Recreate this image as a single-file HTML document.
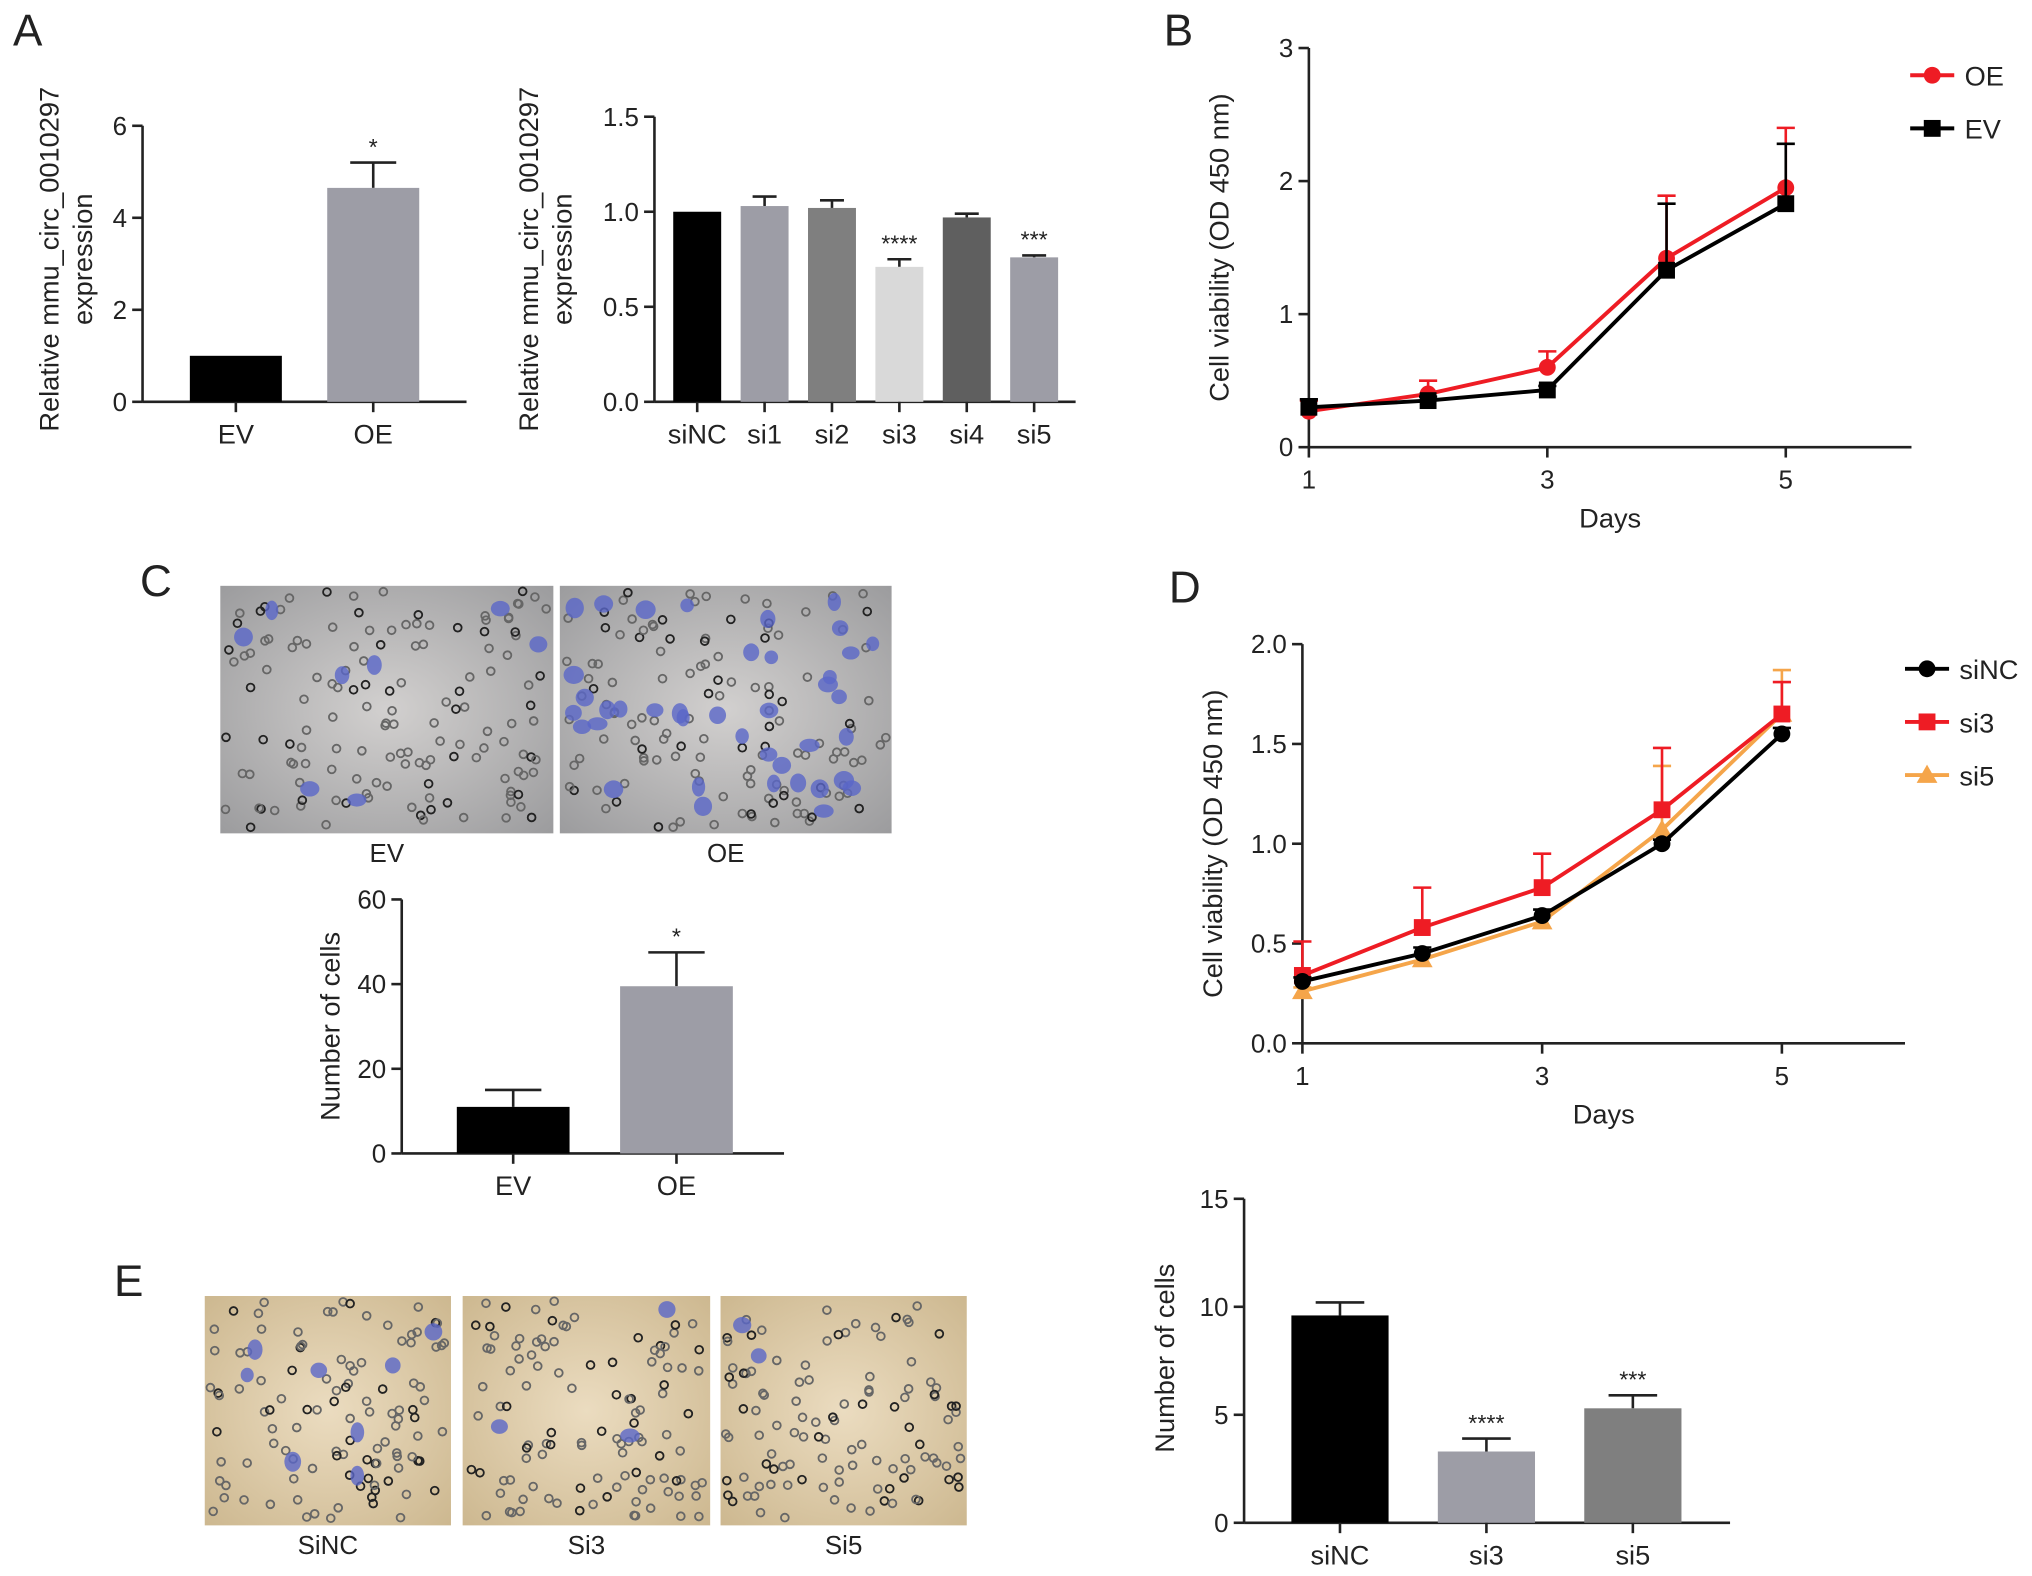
<!DOCTYPE html>
<html><head><meta charset="utf-8"><style>
html,body{margin:0;padding:0;background:#fff}
svg{display:block}
text{font-family:"Liberation Sans",Arial,sans-serif;fill:#222}
</style></head><body>
<svg id="s" width="2032" height="1576" viewBox="0 0 1568 1216" xmlns="http://www.w3.org/2000/svg">
<defs>
<radialGradient id="gC" cx="50%" cy="50%" r="70%"><stop offset="0" stop-color="#d2d0cf"/><stop offset="1" stop-color="#9c9c9e"/></radialGradient>
<radialGradient id="gE" cx="50%" cy="50%" r="70%"><stop offset="0" stop-color="#ebdcc0"/><stop offset="1" stop-color="#cdb890"/></radialGradient>
</defs>
<g id="root"></g>
</svg>
<script>
// ---- data ----
const aLeftCats=['EV','OE'];
const aLeftVals=[1,4.65];
const aLeftErr=[0,0.55];
const aLeftTicks=[0,2,4,6];
const aRightCats=['siNC','si1','si2','si3','si4','si5'];
const aRightVals=[1.0,1.03,1.02,0.71,0.97,0.76];
const aRightErr=[0,0.05,0.04,0.04,0.02,0.01];
const aRightTicks=[0,0.5,1.0,1.5];
const bDays=[1,2,3,4,5];
const bOE=[0.27,0.4,0.6,1.42,1.95];
const bOEerr=[0.08,0.1,0.12,0.47,0.45];
const bEV=[0.3,0.35,0.43,1.33,1.83];
const bEVerr=[0.06,0.03,0.03,0.5,0.45];
const bTicks=[0,1,2,3];
const dSiNC=[0.31,0.45,0.64,1.0,1.55];
const dSiNCerr=[0.02,0.03,0.03,0.02,0.03];
const dSi3=[0.34,0.58,0.78,1.17,1.65];
const dSi3err=[0.17,0.2,0.17,0.31,0.16];
const dSi5=[0.26,0.42,0.61,1.07,1.65];
const dSi5err=[0.02,0.02,0.02,0.32,0.22];
const dTicks=[0,0.5,1.0,1.5,2.0];
const cCats=['EV','OE'];
const cVals=[11,39.5];
const cErr=[4,8];
const cTicks=[0,20,40,60];
const eCats=['siNC','si3','si5'];
const eVals=[9.6,3.3,5.3];
const eErr=[0.6,0.6,0.6];
const eTicks=[0,5,10,15];

const NS='http://www.w3.org/2000/svg';
const root=document.getElementById('root');
function el(tag,attrs,parent,txt){const e=document.createElementNS(NS,tag);for(const k in attrs)e.setAttribute(k,attrs[k]);if(txt!==undefined)e.textContent=txt;(parent||root).appendChild(e);return e;}
function lin(d0,d1,r0,r1){return v=>r0+(v-d0)*(r1-r0)/(d1-d0);}

function yAxis(g,x,y,ticks,yMin,yMax,fmt){
  const ln=el('line',{x1:x,x2:x,y1:y(yMax),y2:y(yMin),stroke:'#222','stroke-width':2},g);
  
  
  ticks.forEach(t=>{
    el('line',{x1:x-8,x2:x,y1:y(t),y2:y(t),stroke:'#222','stroke-width':2},g);
    const tx=el('text',{x:x-12,y:y(t)+7,'text-anchor':'end','font-size':20},g,fmt(t));
    
    
  });
}
function yTitle(g,x,yc,lines){
  lines.forEach((l,i)=>{
    const t=el('text',{x:0,y:0,transform:`translate(${x+i*26},${yc}) rotate(-90)`,'text-anchor':'middle','font-size':21},g,l);
    
    
  });
}
function barChart(name,o){
  const g=el('g',{},root);
  
  
  const y=lin(o.yMin,o.yMax,o.y0,o.y1);
  const bw=o.bw, step=o.step;
  el('line',{x1:o.x0,x2:o.xEnd,y1:o.y0,y2:o.y0,stroke:'#222','stroke-width':2},g);
  yAxis(g,o.x0,y,o.ticks,o.yMin,o.yMax,o.fmt);
  o.cats.forEach((c,i)=>{
    const cx=o.first+i*step;
    const v=o.vals[i], e=o.err[i];
    if(e>0){
      el('line',{x1:cx,x2:cx,y1:y(v),y2:y(v+e),stroke:'#222','stroke-width':2},g);
      el('line',{x1:cx-bw/4,x2:cx+bw/4,y1:y(v+e),y2:y(v+e),stroke:'#222','stroke-width':2},g);
    }
    const r=el('rect',{x:cx-bw/2,y:y(v),width:bw,height:o.y0-y(v),fill:o.colors[i]},g);
    
    
    el('line',{x1:cx,x2:cx,y1:o.y0,y2:o.y0+8,stroke:'#222','stroke-width':2},g);
    const t=el('text',{x:cx,y:o.y0+32,'text-anchor':'middle','font-size':21},g,c);
    
    
    if(o.stars&&o.stars[i]){
      const s=el('text',{x:cx,y:y(v+e)-6,'text-anchor':'middle','font-size':18},g,o.stars[i]);
      
      
    }
  });
  return g;
}
function lineChart(name,o){
  const g=el('g',{},root);
  
  
  const y=lin(o.yMin,o.yMax,o.y0,o.y1);
  const x=lin(1,5,o.x0,o.x5);
  el('line',{x1:o.x0,x2:o.xEnd,y1:o.y0,y2:o.y0,stroke:'#222','stroke-width':2},g);
  yAxis(g,o.x0,y,o.ticks,o.yMin,o.yMax,o.fmt);
  [1,3,5].forEach(d=>{
    el('line',{x1:x(d),x2:x(d),y1:o.y0,y2:o.y0+8,stroke:'#222','stroke-width':2},g);
    const t=el('text',{x:x(d),y:o.y0+32,'text-anchor':'middle','font-size':20},g,d);
    
    
  });
  const xt=el('text',{x:(o.x0+o.xEnd)/2,y:o.y0+62,'text-anchor':'middle','font-size':21},g,'Days');
  
  
  yTitle(g,o.x0-62,(o.y0+o.y1)/2,['Cell viability (OD 450 nm)']);
  o.series.forEach((s)=>{
    const sg=el('g',{},g);
    
    
    s.vals.forEach((v,i)=>{
      const d=bDays[i];
      el('line',{x1:x(d),x2:x(d),y1:y(v),y2:y(v+s.err[i]),stroke:s.color,'stroke-width':2},sg);
      el('line',{x1:x(d)-7,x2:x(d)+7,y1:y(v+s.err[i]),y2:y(v+s.err[i]),stroke:s.color,'stroke-width':2},sg);
    });
    el('polyline',{points:s.vals.map((v,i)=>x(bDays[i])+','+y(v)).join(' '),fill:'none',stroke:s.color,'stroke-width':3},sg);
    s.vals.forEach((v,i)=>marker(sg,s.shape,x(bDays[i]),y(v),s.color));
    const ly=o.legY+s.leg*o.legStep, lx=o.legX;
    const lg=el('g',{},g);
    
    
    el('line',{x1:lx,x2:lx+34,y1:ly,y2:ly,stroke:s.color,'stroke-width':3},lg);
    marker(lg,s.shape,lx+17,ly,s.color);
    el('text',{x:lx+42,y:ly+8,'font-size':21},lg,s.name);
  });
}
function marker(g,shape,cx,cy,c){
  if(shape==='c')el('circle',{cx,cy,r:6.5,fill:c},g);
  else if(shape==='s')el('rect',{x:cx-6.5,y:cy-6.5,width:13,height:13,fill:c},g);
  else el('polygon',{points:`${cx},${cy-8} ${cx+8},${cy+6} ${cx-8},${cy+6}`,fill:c},g);
}
function panelLetter(t,x,y){
  const e=el('text',{x,y,'font-size':34},root,t);
  
  
}
let seed=7;function rnd(){seed=(seed*16807)%2147483647;return seed/2147483647;}
function micro(name,x,y,w,h,fill,nCells,nBlue,label){
  const g=el('g',{},root);
  
  
  el('rect',{x,y,width:w,height:h,fill},g);
  for(let i=0;i<nCells;i++){
    const cx=x+4+rnd()*(w-8),cy=y+4+rnd()*(h-8);
    el('circle',{cx,cy,r:3,fill:'none',stroke:rnd()<0.25?'#222':'#666','stroke-width':1.4},g);
  }
  for(let i=0;i<nBlue;i++){
    const cx=x+10+rnd()*(w-20),cy=y+10+rnd()*(h-20);
    el('ellipse',{cx,cy,rx:5+rnd()*3,ry:5+rnd()*3,fill:'#5a66c8',opacity:0.8},g);
  }
  const t=el('text',{x:x+w/2,y:y+h+22,'text-anchor':'middle','font-size':20},root,label);
  
  
}

panelLetter('A',10,35);panelLetter('B',898,35);panelLetter('C',108,460);panelLetter('D',902,465);panelLetter('E',88,1000);

const gA1=barChart('bar-chart-a-overexpression',{cats:aLeftCats,vals:aLeftVals,err:aLeftErr,ticks:aLeftTicks,yMin:0,yMax:6,y0:310,y1:97,x0:110,xEnd:360,first:182,step:106,bw:71,colors:['#000','#9d9da6'],fmt:t=>t,stars:['','*']});
yTitle(gA1,45,200,['Relative mmu_circ_0010297','expression']);
const gA2=barChart('bar-chart-a-knockdown',{cats:aRightCats,vals:aRightVals,err:aRightErr,ticks:aRightTicks,yMin:0,yMax:1.5,y0:310,y1:90,x0:505,xEnd:830,first:538,step:52,bw:37,colors:['#000','#9d9da6','#7f7f7f','#d9d9d9','#5f5f5f','#9d9da6'],fmt:t=>t.toFixed(1),stars:['','','','****','','***']});
yTitle(gA2,415,200,['Relative mmu_circ_0010297','expression']);

lineChart('line-chart-b',{yMin:0,yMax:3,y0:345,y1:37,x0:1010,x5:1378,xEnd:1475,ticks:bTicks,fmt:t=>t,legX:1474,legY:58,legStep:41,
  series:[{name:'OE',leg:0,vals:bOE,err:bOEerr,color:'#ee1c24',shape:'c'},{name:'EV',leg:1,vals:bEV,err:bEVerr,color:'#000',shape:'s'}]});
lineChart('line-chart-d',{yMin:0,yMax:2,y0:805,y1:497,x0:1005,x5:1375,xEnd:1470,ticks:dTicks,fmt:t=>t.toFixed(1),legX:1470,legY:516,legStep:41,
  series:[{name:'si5',leg:2,vals:dSi5,err:dSi5err,color:'#f5a54a',shape:'t'},{name:'si3',leg:1,vals:dSi3,err:dSi3err,color:'#ee1c24',shape:'s'},{name:'siNC',leg:0,vals:dSiNC,err:dSiNCerr,color:'#000',shape:'c'}]});

micro('micrograph-c-ev',170,452,257,191,'url(#gC)',140,8,'EV');
micro('micrograph-c-oe',432,452,256,191,'url(#gC)',130,40,'OE');
const gC=barChart('bar-chart-c',{cats:cCats,vals:cVals,err:cErr,ticks:cTicks,yMin:0,yMax:60,y0:890,y1:694,x0:310,xEnd:605,first:396,step:126,bw:87,colors:['#000','#9d9da6'],fmt:t=>t,stars:['','*']});
yTitle(gC,262,792,['Number of cells']);

micro('micrograph-e-sinc',158,1000,190,177,'url(#gE)',110,8,'SiNC');
micro('micrograph-e-si3',357,1000,191,177,'url(#gE)',110,3,'Si3');
micro('micrograph-e-si5',556,1000,190,177,'url(#gE)',110,2,'Si5');
const gE=barChart('bar-chart-e',{cats:eCats,vals:eVals,err:eErr,ticks:eTicks,yMin:0,yMax:15,y0:1175,y1:925,x0:960,xEnd:1335,first:1034,step:113,bw:75,colors:['#000','#9d9da6','#7f7f7f'],fmt:t=>t,stars:['','****','***']});
yTitle(gE,906,1048,['Number of cells']);
</script>
</body></html>
